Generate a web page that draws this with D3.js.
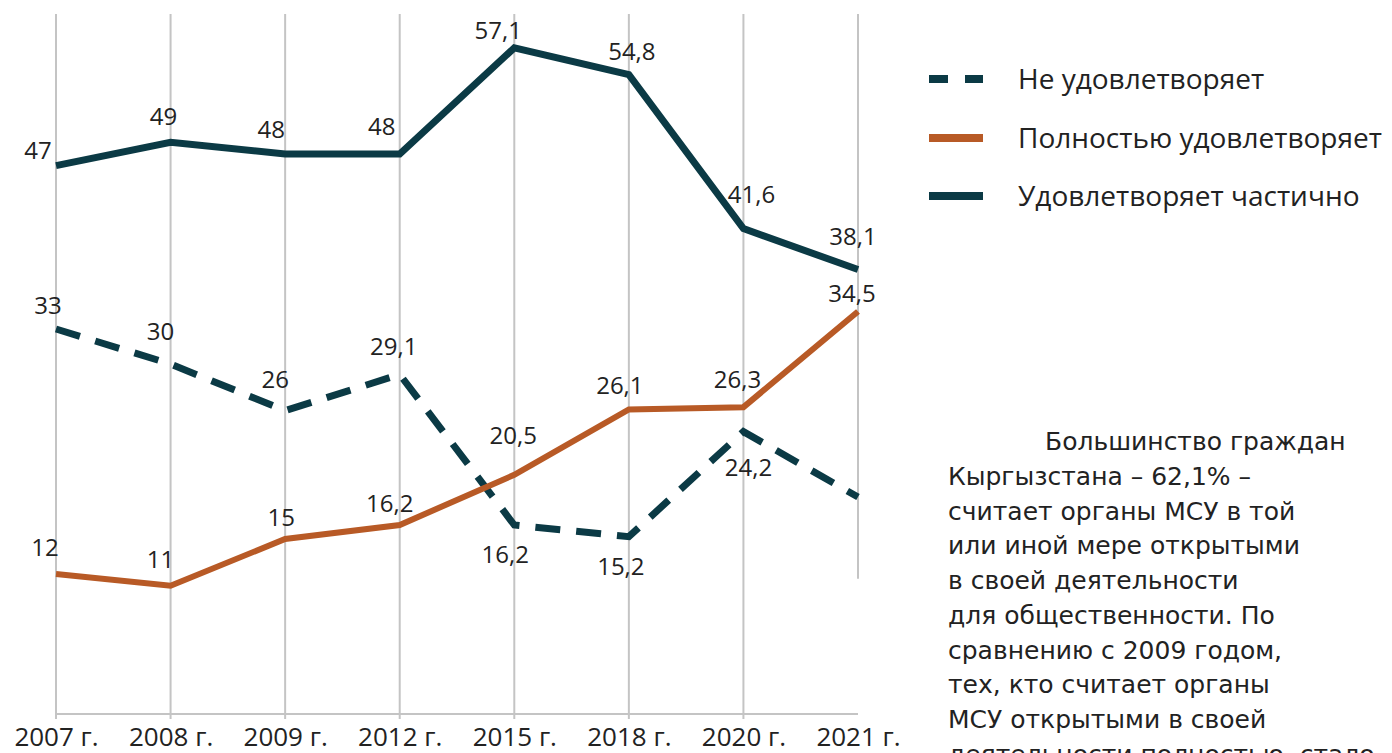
<!DOCTYPE html>
<head>
  <meta charset="utf-8">
  <script src="https://d3js.org/d3.v7.min.js"></script>
  <style>
    body { margin:0; background:#fff; overflow:hidden; }
    svg { display:block; }
    text { font-family: "Open Sans", Lato, sans-serif; fill:#222; }
    .grid line { stroke:#c4c4c4; stroke-width:2; }
    .lbl { font-size:24px; text-anchor:middle; }
    .legend text { font-size:28px; }
    .note { font-size:25px; font-family: "DejaVu Sans", sans-serif; }
  </style>
</head>
<body>
  <div class="chart"></div>
  <script>
    const years = ['2007 г.', '2008 г.', '2009 г.', '2012 г.', '2015 г.', '2018 г.', '2020 г.', '2021 г.'];
    const notSatisfied  = [33, 30, 26, 29.1, 16.2, 15.2, 24.2, 18.6];
    const fullySatisfied = [12, 11, 15, 16.2, 20.5, 26.1, 26.3, 34.5];
    const partlySatisfied = [47, 49, 48, 48, 57.1, 54.8, 41.6, 38.1];
    const notLabels  = ['33', '30', '26', '29,1', '16,2', '15,2', '24,2', null];
    const fullLabels = ['12', '11', '15', '16,2', '20,5', '26,1', '26,3', '34,5'];
    const partLabels = ['47', '49', '48', '48', '57,1', '54,8', '41,6', '38,1'];
    const seriesNames = ['Не удовлетворяет', 'Полностью удовлетворяет', 'Удовлетворяет частично'];

    const noteLines = [
      'Кыргызстана – 62,1% –',
      'считает органы МСУ в той',
      'или иной мере открытыми',
      'в своей деятельности',
      'для общественности. По',
      'сравнению с 2009 годом,',
      'тех, кто считает органы',
      'МСУ открытыми в своей',
      'деятельности полностью, стало'
    ];

    const dark = '#0b3a45';
    const orange = '#b85a26';

    const W = 1392, H = 753;
    const svg = d3.select('.chart').append('svg')
      .attr('width', W).attr('height', H);

    const x = d3.scalePoint().domain(years).range([56, 858]);
    const y = d3.scaleLinear().domain([0, 60]).range([714, 14]);

    // vertical grid (last one is cut short in the original)
    const grid = svg.append('g').attr('class', 'grid');
    grid.selectAll('line')
      .data(years)
      .enter().append('line')
      .attr('x1', d => x(d)).attr('x2', d => x(d))
      .attr('y1', y(60))
      .attr('y2', (d, i) => i === years.length - 1 ? y(11.6) : y(0) + 5);

    grid.append('line')
      .attr('x1', x(years[0])).attr('x2', x(years[years.length - 1]))
      .attr('y1', y(0)).attr('y2', y(0));

    const xAxis = d3.axisBottom(x).tickSize(0).tickPadding(0);
    const xg = svg.append('g')
      .attr('transform', `translate(0, ${y(0)})`)
      .call(xAxis);
    xg.select('.domain').remove();
    xg.selectAll('text')
      .attr('dy', null)
      .attr('y', 32)
      .attr('fill', '#222')
      .style('font-family', '"Open Sans", sans-serif')
      .style('font-size', '26px')
      .each(function () {
        // keep the first label inside the page
        const t = d3.select(this);
        const tickX = x(t.datum());
        const w = this.getComputedTextLength();
        if (tickX - w / 2 < 0) t.attr('x', w / 2 - tickX);
      });

    const line = d3.line()
      .x((d, i) => x(years[i]))
      .y(d => y(d));

    const series = [
      { name: seriesNames[0], values: notSatisfied, labels: notLabels, color: dark, width: 7, dash: '25,16' },
      { name: seriesNames[1], values: fullySatisfied, labels: fullLabels, color: orange, width: 6, dash: null },
      { name: seriesNames[2], values: partlySatisfied, labels: partLabels, color: dark, width: 7, dash: null }
    ];

    svg.selectAll('.series')
      .data(series)
      .enter().append('path')
      .attr('class', 'series')
      .attr('d', d => line(d.values))
      .attr('fill', 'none')
      .attr('stroke', d => d.color)
      .attr('stroke-width', d => d.width)
      .attr('stroke-dasharray', d => d.dash)
      .attr('stroke-linejoin', 'miter');

    // label offsets (dx, dy) relative to the point
    const offsets = [
      [[-8, -15], [-10, -24], [-10, -23], [-6, -20], [-9, 38], [-8, 38], [5, 44], [0, 0]],
      [[-11, -18], [-10, -18], [-4, -13], [-10, -13], [-1, -31], [-9, -16], [-6, -19], [-6, -10]],
      [[-18, -7], [-7, -17], [-14, -16], [-18, -19], [-16, -9], [3, -15], [8, -26], [-5, -25]]
    ];

    series.forEach((s, si) => {
      svg.append('g').selectAll('text')
        .data(s.values)
        .enter().filter((d, i) => s.labels[i] !== null)
        .append('text')
        .attr('class', 'lbl')
        .attr('x', (d, i) => x(years[i]) + offsets[si][i][0])
        .attr('y', (d, i) => y(d) + offsets[si][i][1])
        .text((d, i) => s.labels[i]);
    });

    // legend
    const legendY = [79, 138, 196];
    const legend = svg.append('g').attr('class', 'legend');
    series.forEach((s, i) => {
      legend.append('line')
        .attr('x1', 929).attr('x2', 983)
        .attr('y1', legendY[i]).attr('y2', legendY[i])
        .attr('stroke', s.color)
        .attr('stroke-width', 8)
        .attr('stroke-dasharray', s.dash ? '19,17' : null);
      legend.append('text')
        .attr('x', 1018).attr('y', legendY[i] + 10)
        .text(s.name);
    });

    // annotation text
    const note = svg.append('text').attr('class', 'note');
    note.append('tspan').attr('x', 1045).attr('y', 450).text('Большинство граждан');
    noteLines.forEach((t, i) => {
      note.append('tspan').attr('x', 948).attr('y', 485 + i * 34.7).text(t);
    });
  </script>
</body>
